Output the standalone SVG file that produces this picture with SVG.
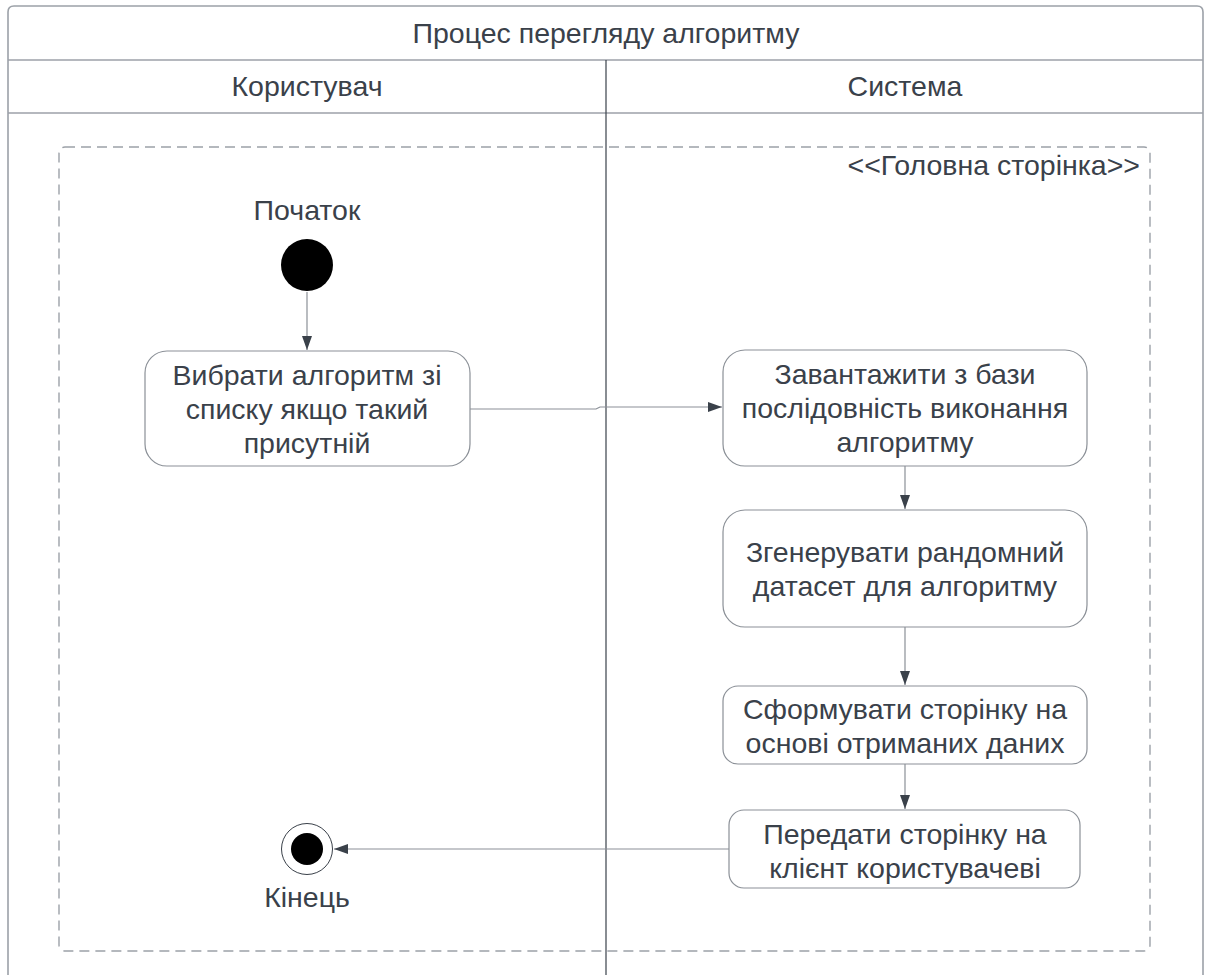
<svg xmlns="http://www.w3.org/2000/svg" width="1206" height="975" viewBox="0 0 1206 975">
  <defs>
    <marker id="arrow" viewBox="0 0 14 10" refX="14" refY="5" markerWidth="14" markerHeight="10" markerUnits="userSpaceOnUse" orient="auto">
      <path d="M0,0 L14,5 L0,10 Z" fill="#3a414a"/>
    </marker>
    <style>
      text { font-family: "Liberation Sans", Arial, sans-serif; fill: #3a414a; font-size: 28.5px; text-anchor: middle; }
      .frame { fill: none; stroke: #9ca1a8; stroke-width: 1.6; }
      .lane { fill: none; stroke: #3a414a; stroke-width: 1.2; }
      .box { fill: #ffffff; stroke: #8b9097; stroke-width: 1.2; }
      .edge { fill: none; stroke: #8b9097; stroke-width: 1.2; }
    </style>
  </defs>
  <rect width="1206" height="975" fill="#ffffff"/>

  <!-- swimlane pool -->
  <g id="pool">
    <path class="frame" d="M8,975 V12 Q8,6 14,6 H1197 Q1203,6 1203,12 V975"/>
    <line class="frame" x1="8" y1="60" x2="1203" y2="60"/>
    <line class="frame" x1="8" y1="113" x2="1203" y2="113"/>
    <line class="lane" x1="606" y1="60" x2="606" y2="975"/>
    <text x="606" y="43">Процес перегляду алгоритму</text>
    <text x="307" y="96">Користувач</text>
    <text x="905" y="96">Система</text>
  </g>

  <!-- page frame -->
  <g id="page-frame">
    <rect x="59" y="147" width="1091" height="804" rx="6" fill="none" stroke="#9ca1a8" stroke-width="1.4" stroke-dasharray="10,6"/>
    <text x="1140" y="175" style="text-anchor:end">&lt;&lt;Головна сторінка&gt;&gt;</text>
  </g>

  <!-- connectors -->
  <g id="connectors">
    <line class="edge" x1="307" y1="292" x2="307" y2="350" marker-end="url(#arrow)"/>
    <path class="edge" d="M470,409 H596 L600,407 H722" marker-end="url(#arrow)"/>
    <line class="edge" x1="905" y1="466" x2="905" y2="509" marker-end="url(#arrow)"/>
    <line class="edge" x1="905" y1="627" x2="905" y2="685" marker-end="url(#arrow)"/>
    <line class="edge" x1="905" y1="764" x2="905" y2="809" marker-end="url(#arrow)"/>
    <line class="edge" x1="729" y1="849" x2="334" y2="849" marker-end="url(#arrow)"/>
  </g>

  <!-- start -->
  <g id="start">
    <text x="307" y="220">Початок</text>
    <circle cx="307" cy="265" r="26" fill="#000000"/>
  </g>

  <!-- activities -->
  <g id="select-algorithm">
    <rect class="box" x="145" y="351" width="325" height="115" rx="22"/>
    <text x="307" y="385">Вибрати алгоритм зі</text>
    <text x="307" y="419">списку якщо такий</text>
    <text x="307" y="453">присутній</text>
  </g>

  <g id="load-sequence">
    <rect class="box" x="723" y="350" width="364" height="116" rx="22"/>
    <text x="905" y="384">Завантажити з бази</text>
    <text x="905" y="418">послідовність виконання</text>
    <text x="905" y="452">алгоритму</text>
  </g>

  <g id="generate-dataset">
    <rect class="box" x="723" y="510" width="364" height="117" rx="22"/>
    <text x="905" y="562">Згенерувати рандомний</text>
    <text x="905" y="596">датасет для алгоритму</text>
  </g>

  <g id="build-page">
    <rect class="box" x="723" y="686" width="364" height="78" rx="15"/>
    <text x="905" y="719">Сформувати сторінку на</text>
    <text x="905" y="753">основі отриманих даних</text>
  </g>

  <g id="send-page">
    <rect class="box" x="729" y="810" width="351" height="78" rx="15"/>
    <text x="905" y="844">Передати сторінку на</text>
    <text x="905" y="878">клієнт користувачеві</text>
  </g>

  <!-- end -->
  <g id="end">
    <circle cx="307" cy="849" r="25.5" fill="#ffffff" stroke="#3a414a" stroke-width="1"/>
    <circle cx="307" cy="849" r="16" fill="#000000"/>
    <text x="307" y="907">Кінець</text>
  </g>
</svg>
